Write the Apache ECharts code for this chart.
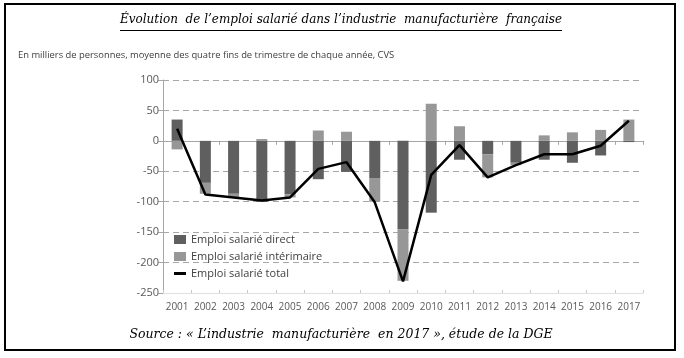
<!DOCTYPE html>
<html><head><meta charset="utf-8">
<script src="https://cdn.jsdelivr.net/npm/echarts@6/dist/echarts.min.js"></script>
<style>html,body{margin:0;padding:0;background:#fff}#c{width:684px;height:358px}</style>
</head><body><div id="c"></div>
<script>
const years = ['2001','2002','2003','2004','2005','2006','2007','2008','2009','2010','2011','2012','2013','2014','2015','2016','2017'];
const direct = [35,-69,-87,-100,-88,-63,-51,-61,-145,-118,-31,-22,-36,-31,-36,-24,-2];
const interim = [-14,-18,-6,3,-5,17,15,-39,-85,61,24,-38,-4,9,14,18,35];
const total = [20,-88,-93,-98,-93,-46,-35,-101,-231,-56,-7,-60,-40,-22,-22,-8,33];
const yTicks = {min:-250, max:100, interval:50};
const titleText = "Évolution  de l’emploi salarié dans l’industrie  manufacturière  française";
const subtitleText = "En milliers de personnes, moyenne des quatre fins de trimestre de chaque année, CVS";
const sourceText = "Source : « L’industrie  manufacturière  en 2017 », étude de la DGE";

const titleFont = 'italic 12px "DejaVu Serif"';
const cv = document.createElement('canvas').getContext('2d');
cv.font = titleFont;
const tw = cv.measureText(titleText).width;

const chart = echarts.init(document.getElementById('c'), null, {renderer:'canvas'});
const labelColor = '#595959';
chart.setOption({
  animation:false,
  grid:{left:163, right:41, top:80, bottom:65},
  legend:{
    orient:'vertical', left:169, top:229, itemGap:6, itemWidth:12, itemHeight:9,
    textStyle:{color:'#404040', fontSize:11, fontFamily:'Open Sans'},
    data:[{name:'Emploi salarié direct', icon:'rect'},{name:'Emploi salarié intérimaire', icon:'rect'},
          {name:'Emploi salarié total', icon:'path://M0,0 L12,0 L12,3 L0,3 Z'}]
  },
  xAxis:[
    {type:'category', data:years, position:'bottom',
     axisLine:{onZero:true, lineStyle:{color:'#a6a6a6', width:1}},
     axisTick:{show:true, length:4, lineStyle:{color:'#a6a6a6'}},
     axisLabel:{show:false}},
    {type:'category', data:years, position:'bottom', offset:0,
     axisLine:{onZero:false, show:true, lineStyle:{color:'#e0e0e0'}},
     axisTick:{show:true, length:3, inside:true, lineStyle:{color:'#c8c8c8'}},
     axisLabel:{color:labelColor, fontSize:10, fontFamily:'Open Sans', margin:9, interval:0}}
  ],
  yAxis:{type:'value', min:yTicks.min, max:yTicks.max, interval:yTicks.interval,
    axisLine:{show:true, lineStyle:{color:'#a6a6a6'}},
    axisTick:{show:true, length:5, lineStyle:{color:'#a6a6a6'}},
    axisLabel:{color:labelColor, fontSize:11, fontFamily:'Open Sans', margin:4},
    splitLine:{lineStyle:{color:'#a6a6a6', type:[6,4]}}},
  series:[
    {name:'Emploi salarié direct', type:'bar', stack:'s', data:direct, barWidth:11,
     itemStyle:{color:'#5f5f5f'}},
    {name:'Emploi salarié intérimaire', type:'bar', stack:'s', data:interim, barWidth:11,
     itemStyle:{color:'#979797'}},
    {name:'Emploi salarié total', type:'line', data:total, symbol:'none', z:5,
     lineStyle:{color:'#000', width:2.5}, itemStyle:{color:'#000'}}
  ],
  graphic:[
    {type:'rect', shape:{x:5, y:4, width:670, height:346}, style:{fill:null, stroke:'#000', lineWidth:2}, silent:true},
    {type:'text', x:341, y:14, style:{text:titleText, font:titleFont, fill:'#000', textAlign:'center'}},
    {type:'line', shape:{x1:341-tw/2, y1:30.5, x2:341+tw/2, y2:30.5}, style:{stroke:'#000', lineWidth:1}},
    {type:'text', x:18, y:51, style:{text:subtitleText, font:'9.4px "Open Sans"', fill:'#404040'}},
    {type:'text', x:341, y:328, style:{text:sourceText, font:'italic 12.5px "DejaVu Serif"', fill:'#000', textAlign:'center'}}
  ]
});
</script></body></html>
